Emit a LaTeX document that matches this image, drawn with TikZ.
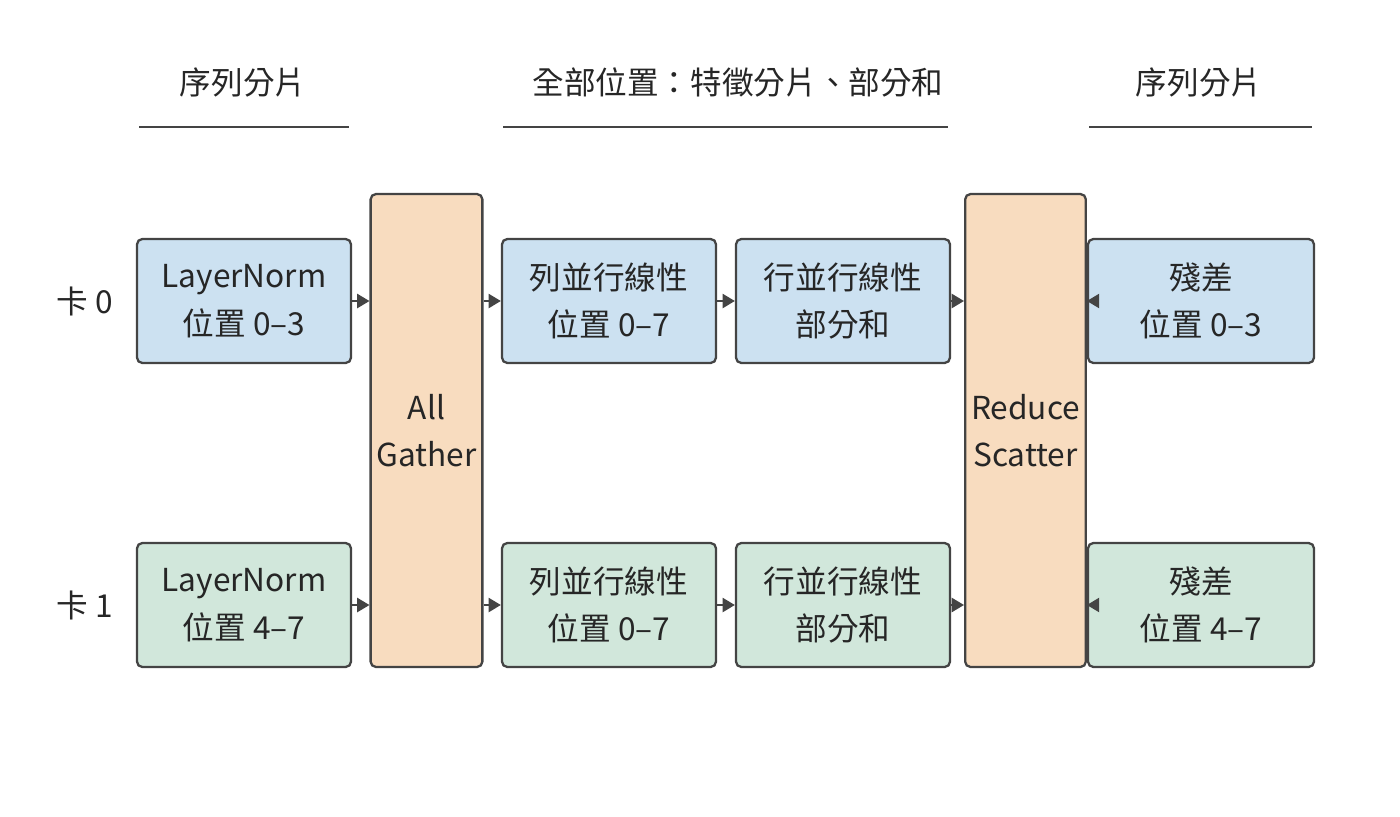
\documentclass[tikz,border=0pt]{standalone}
\usepackage{fontspec}
\setmainfont{Noto Sans CJK TC}
\usetikzlibrary{arrows.meta,positioning}
\definecolor{cblue}{HTML}{CCE1F1}
\definecolor{cgreen}{HTML}{D1E7DB}
\definecolor{corange}{HTML}{F8DCBF}
\definecolor{cline}{HTML}{444444}
\tikzset{
  box/.style={draw=cline, line width=1.3pt, rounded corners=3pt, minimum width=4.28cm,
    minimum height=2.48cm, align=center, font=\fontsize{18}{27}\selectfont, text=black!85},
  tall/.style={box, fill=corange, minimum width=1.94cm, minimum height=9.46cm},
  arr/.style={draw=cline, line width=1.3pt, -{Triangle[length=7pt,width=8pt]}},
  head/.style={font=\fontsize{18}{22}\selectfont, text=black!85}
}
\begin{document}
\begin{tikzpicture}[x=0.02cm, y=-0.02cm]

    %% Background
    \useasboundingbox (0,0) rectangle (1400,816);

    % Headers
    \node[head] (h1) at (243,82) {序列分片};
    \node[head] (h2) at (738,82) {全部位置：特徵分片、部分和};
    \node[head] (h3) at (1199,82) {序列分片};
    \draw[cline, line width=1.3pt] (139,127) -- (349,127);
    \draw[cline, line width=1.3pt] (503,127) -- (948,127);
    \draw[cline, line width=1.3pt] (1089,127) -- (1312,127);

    % Cards
    \node[head] (c0) at (85,301) {卡 0};
    \node[head] (c1) at (85,605) {卡 1};

    % Boxes
    \node[box, fill=cblue] (ln0) at (244,301) {LayerNorm\\位置 0–3};
    \node[box, fill=cgreen] (ln1) at (244,605) {LayerNorm\\位置 4–7};
    \node[tall] (ag) at (426.5,430.5) {All\\Gather};
    \node[box, fill=cblue] (col0) at (609,301) {列並行線性\\位置 0–7};
    \node[box, fill=cgreen] (col1) at (609,605) {列並行線性\\位置 0–7};
    \node[box, fill=cblue] (row0) at (843,301) {行並行線性\\部分和};
    \node[box, fill=cgreen] (row1) at (843,605) {行並行線性\\部分和};
    \node[tall] (rs) at (1025.5,430.5) {Reduce\\Scatter};
    \node[box, fill=cblue, minimum width=4.52cm] (res0) at (1201,301) {殘差\\位置 0–3};
    \node[box, fill=cgreen, minimum width=4.52cm] (res1) at (1201,605) {殘差\\位置 4–7};

    % Arrows
    \draw[arr] (ln0.east) -- (ag.west |- ln0.east);
    \draw[arr] (ln1.east) -- (ag.west |- ln1.east);
    \draw[arr] (ag.east |- col0.west) -- (col0.west);
    \draw[arr] (ag.east |- col1.west) -- (col1.west);
    \draw[arr] (col0.east) -- (row0.west);
    \draw[arr] (col1.east) -- (row1.west);
    \draw[arr] (row0.east) -- (rs.west |- row0.east);
    \draw[arr] (row1.east) -- (rs.west |- row1.east);
    \draw[arr] (rs.east |- res0.west) -- (res0.west);
    \draw[arr] (rs.east |- res1.west) -- (res1.west);

\end{tikzpicture}
\end{document}
